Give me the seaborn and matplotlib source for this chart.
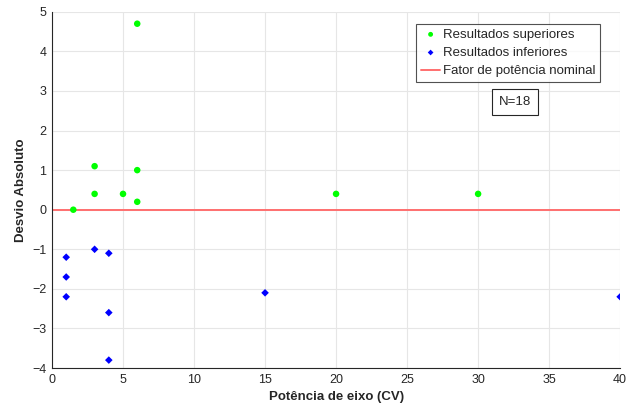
import matplotlib
matplotlib.use("Agg")
import matplotlib.pyplot as plt
import seaborn as sns
import pandas as pd

sup_x = [1.5, 3, 3, 5, 6, 6, 6, 20, 30]
sup_y = [0.0, 1.1, 0.4, 0.4, 4.7, 1.0, 0.2, 0.4, 0.4]
inf_x = [1, 1, 1, 3, 4, 4, 4, 15, 40]
inf_y = [-1.2, -1.7, -2.2, -1.0, -1.1, -2.6, -3.8, -2.1, -2.2]
nominal = 0.0
n_label = "N=18"

sns.set_style("white")
plt.rcParams['font.family'] = ['Liberation Sans', 'DejaVu Sans']

fig = plt.figure(figsize=(6.38, 4.08), dpi=100)
ax = fig.add_axes([0.0815, 0.098, 0.8905, 0.873])

df_sup = pd.DataFrame({"x": sup_x, "y": sup_y})
df_inf = pd.DataFrame({"x": inf_x, "y": inf_y})

ax.axhline(nominal, color="#ff6f6f", lw=1.4, zorder=2, label="Fator de potência nominal")
sns.scatterplot(data=df_sup, x="x", y="y", ax=ax, color="#00ff00", marker="o", s=22,
                edgecolor="none", label="Resultados superiores", zorder=3)
sns.scatterplot(data=df_inf, x="x", y="y", ax=ax, color="#0000ff", marker="D", s=15,
                edgecolor="none", label="Resultados inferiores", zorder=3)

ax.set_xlim(0, 40)
ax.set_ylim(-4, 5)
ax.set_xticks(range(0, 41, 5))
ax.set_yticks(range(-4, 6))
ax.grid(True, color="#e6e6e6", lw=0.8)
ax.set_axisbelow(True)
for s in ["top", "right"]:
    ax.spines[s].set_visible(False)
for s in ["left", "bottom"]:
    ax.spines[s].set_color("#262626")
    ax.spines[s].set_linewidth(0.8)
ax.tick_params(axis="both", labelsize=9, colors="#262626", length=3, direction="in", pad=4)
ax.set_xlabel("Potência de eixo (CV)", fontsize=9.5, fontweight="bold", color="#262626")
ax.set_ylabel("Desvio Absoluto", fontsize=9.5, fontweight="bold", color="#262626")

h, l = ax.get_legend_handles_labels()
order = [l.index("Resultados superiores"), l.index("Resultados inferiores"), l.index("Fator de potência nominal")]
leg = ax.legend([h[i] for i in order], [l[i] for i in order], loc="upper right",
                bbox_to_anchor=(0.965, 0.966), fontsize=9.5, frameon=True, fancybox=False,
                edgecolor="#262626", handlelength=1.5, handletextpad=0.2, borderpad=0.35,
                labelspacing=0.45, borderaxespad=0, markerscale=0.75)
leg.get_frame().set_linewidth(0.8)

ax.text(0.815, 0.747, n_label, transform=ax.transAxes, ha="center", va="center", fontsize=9.5,
        bbox=dict(boxstyle="square,pad=0.55", fc="white", ec="#262626", lw=0.8))

fig.savefig("out.png", dpi=100)
